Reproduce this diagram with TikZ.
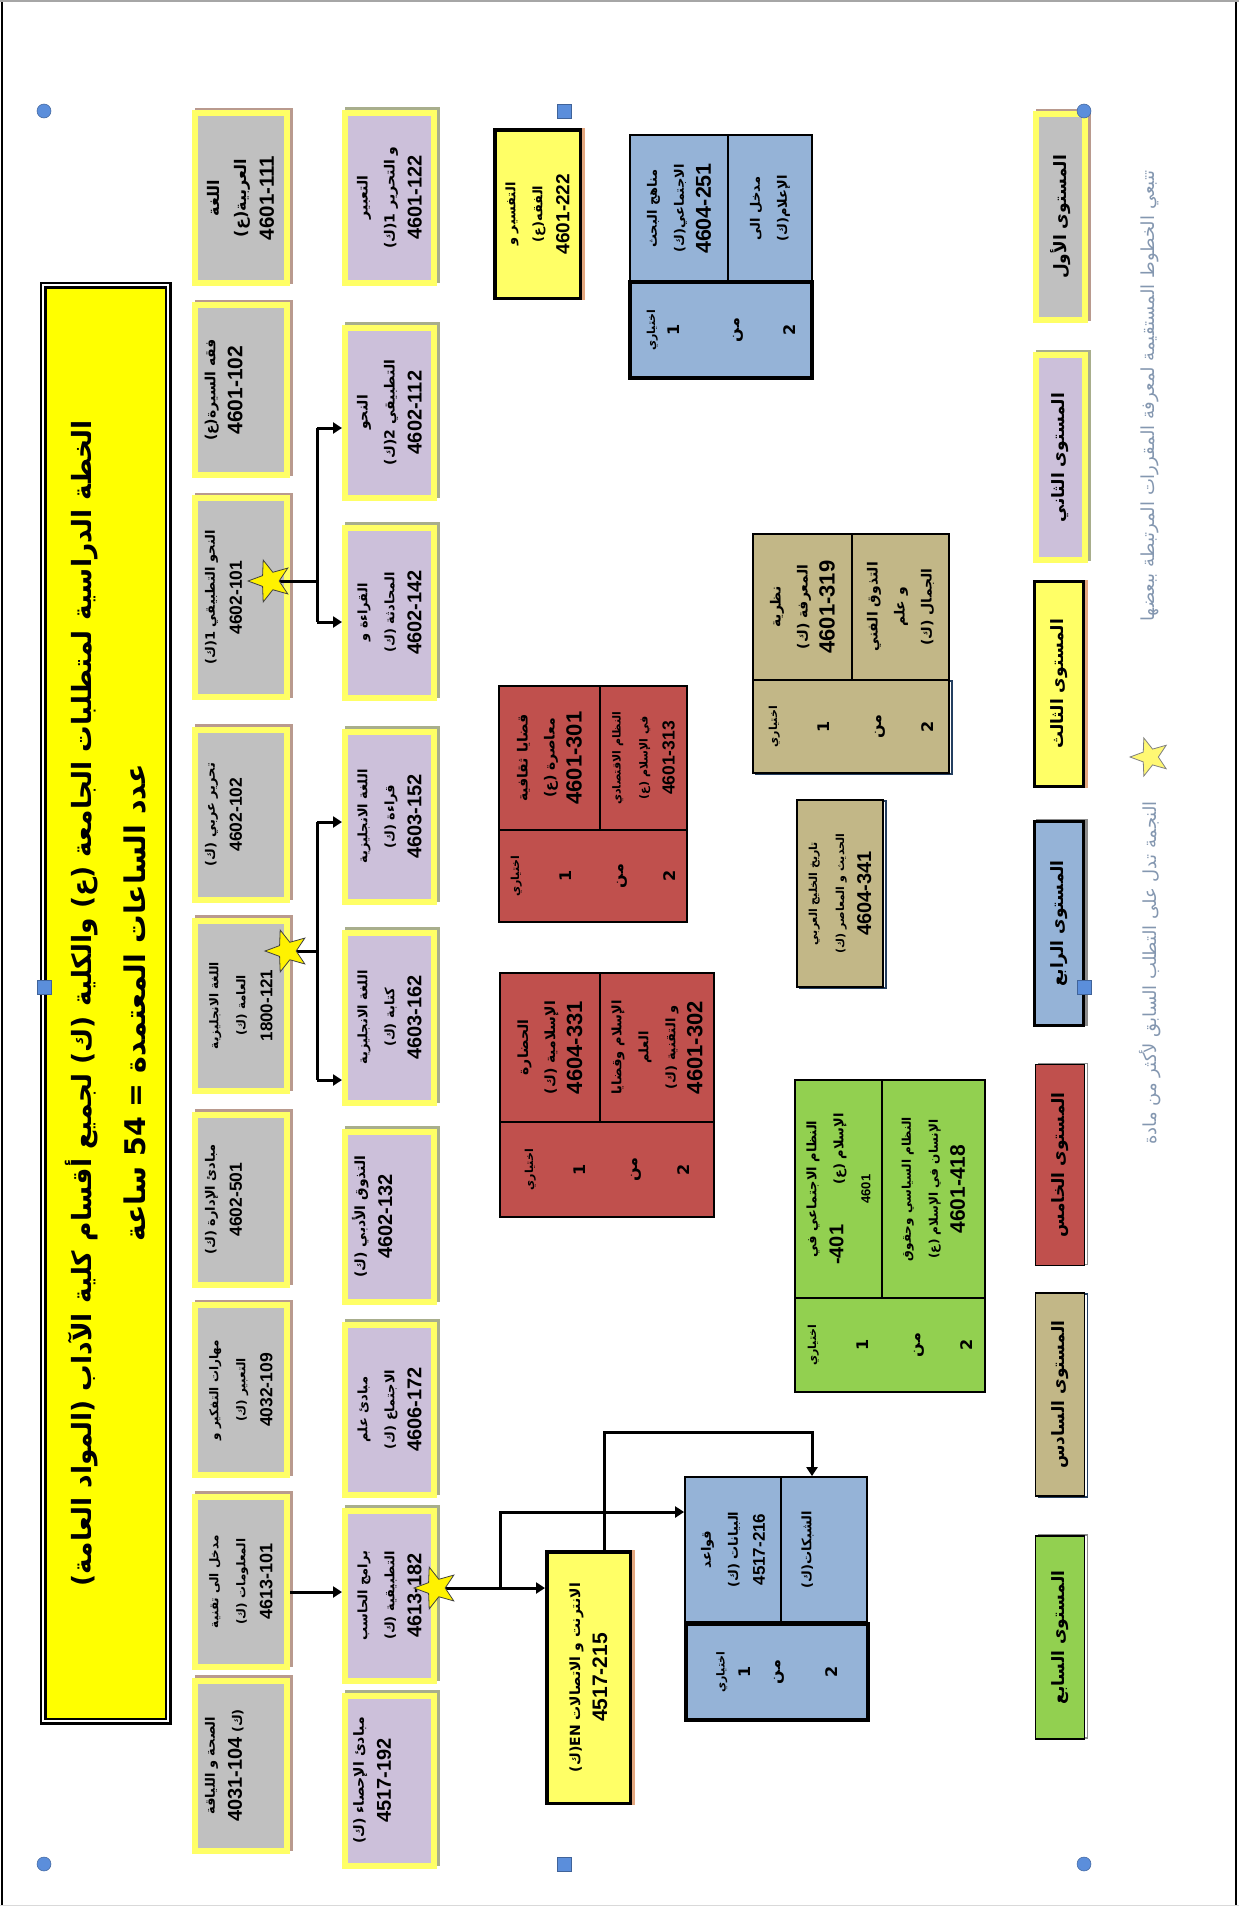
\documentclass[tikz,border=0pt]{standalone}
\usepackage{fontspec}
\usepackage{tikz}
\usetikzlibrary{shapes.geometric,arrows.meta,calc}
\TeXXeTstate=1
\newfontfamily\arfont[Script=Arabic]{DejaVu Sans}
\newfontfamily\numfont{Liberation Sans}
\newcommand{\rl}[1]{\beginR #1\endR}
\newcommand{\nm}[2][20]{{\numfont\bfseries\fontsize{#1}{27}\selectfont #2}}
\newcommand{\choicetext}{\rl{{\fontsize{11}{27}\selectfont اختياري}}\\1\\\rl{من}\\2}
\definecolor{grayfill}{HTML}{C0C0C0}
\definecolor{lavfill}{HTML}{CCC0DA}
\definecolor{rimyellow}{HTML}{FFFF66}
\definecolor{lvyellow}{HTML}{FFFF66}
\definecolor{titleyellow}{HTML}{FFFF00}
\definecolor{bluefill}{HTML}{95B3D7}
\definecolor{redfill}{HTML}{C0504D}
\definecolor{tanfill}{HTML}{C2B787}
\definecolor{greenfill}{HTML}{92D050}
\definecolor{notegray}{HTML}{8497B0}
\definecolor{handleblue}{HTML}{5B8EDB}
\definecolor{shadebrown}{HTML}{B99A8E}
\definecolor{shadeolive}{HTML}{A8AE8C}
\definecolor{shadeorange}{HTML}{E3A77F}
\definecolor{shadenavy}{HTML}{243F60}
\definecolor{shadegray}{HTML}{8C8C8C}
\begin{document}
\begin{tikzpicture}[x=1pt,y=-1pt,
    rimbox/.style={rotate=90, draw=rimyellow, line width=6pt, inner sep=0pt, align=center},
    levelone/.style={rimbox, fill=grayfill, minimum width=170pt, minimum height=92pt,
      preaction={draw=shadebrown, transform canvas={shift={(2.5pt,2.5pt)}}}},
    leveltwo/.style={rimbox, fill=lavfill, minimum width=170pt, minimum height=89pt,
      preaction={draw=shadeolive, transform canvas={shift={(2.5pt,2.5pt)}}}},
    cell/.style={rotate=90, draw=black, line width=1.8pt, inner sep=0pt, align=center},
    heavy/.style={line width=3.5pt},
    choice/.style={cell, font=\arfont\bfseries\fontsize{16}{52}\selectfont},
    fsz/.style={font=\arfont\bfseries\fontsize{#1}{27}\selectfont},
    legendfont/.style={font=\arfont\bfseries\fontsize{17}{20}\selectfont},
    orangeshade/.style={preaction={draw=shadeorange, transform canvas={shift={(3pt,0pt)}}}},
    navyshade/.style={preaction={draw=shadenavy, transform canvas={shift={(3pt,-1pt)}}}},
    grayshade/.style={preaction={draw=shadegray, transform canvas={shift={(3pt,1pt)}}}},
    note/.style={rotate=90, text=notegray, font=\arfont\fontsize{18}{20}\selectfont},
    link/.style={line width=3pt},
    linkarrow/.style={link, -{Triangle[length=9pt,width=11pt]}},
    prereq/.style={star, star points=5, star point ratio=2.4, minimum size=44pt, inner sep=0pt,
      fill=yellow, draw=black!75, line width=0.8pt, rotate=90},
    handle/.style={fill=handleblue, draw=handleblue!70!black, line width=0.5pt}]
  \useasboundingbox (0,0) rectangle (1239,1906);
  \draw[line width=2pt] (2,0) -- (2,1906);
  \draw[line width=2.5pt] (1236,0) -- (1236,1906);
  \draw[gray!70, line width=1.5pt] (0,1) -- (1239,1);
  \draw[gray!30, line width=1pt] (0,1905) -- (1239,1905);

  \node[rotate=90, draw, line width=2.5pt, double=white, double distance=2pt, fill=titleyellow,
    minimum width=1436pt, minimum height=125pt, align=center,
    font=\arfont\bfseries\fontsize{26.5}{54}\selectfont] (title) at (105.5,1003)
    {\rl{الخطة الدراسية لمتطلبات الجامعة (ع) والكلية (ك) لجميع أقسام كلية الآداب (المواد العامة)}\\
     \rl{\fontsize{28.5}{54}\selectfont عدد الساعات المعتمدة = \beginL 54\endL{} ساعة}};

  \node[levelone, fsz=16] (n11) at (241,198) {\rl{اللغة}\\\rl{العربية(ع)}\\\nm[20.5]{4601-111}};
  \node[levelone, fsz=14] (n12) at (241,390) {\rl{فقه السيرة(ع)}\\\nm[21]{4601-102}\\\strut};
  \node[levelone, minimum width=199pt, fsz=13] (n13) at (241,597.5) {\rl{النحو التطبيقي 1(ك)}\\\nm[17.5]{4602-101}\\\strut};
  \node[levelone, fsz=13] (n14) at (241,814.5) {\rl{تحرير عربي (ك)}\\\nm[17.5]{4602-102}\\\strut};
  \node[levelone, fsz=12] (n15) at (241,1005.5) {\rl{اللغة الانجليزية}\\\rl{العامة (ك)}\\\nm[17]{1800-121}};
  \node[levelone, fsz=13] (n16) at (241,1199.5) {\rl{مبادئ الإدارة (ك)}\\\nm[17.5]{4602-501}\\\strut};
  \node[levelone, fsz=12] (n17) at (241,1390) {\rl{مهارات التفكير و}\\\rl{التعبير (ك)}\\\nm[17.5]{4032-109}};
  \node[levelone, fsz=12] (n18) at (241,1581.5) {\rl{مدخل الى تقنية}\\\rl{المعلومات (ك)}\\\nm[18]{4613-101}};
  \node[levelone, fsz=13] (n19) at (241,1765.5) {\rl{الصحة و اللياقة}\\\rl{(ك) \beginL\nm[20]{4031-104}\endL}\\\strut};

  \node[leveltwo, fsz=14] (n21) at (389.5,197.5) {\rl{التعبير}\\\rl{و التحرير 1(ك)}\\\nm{4601-122}};
  \node[leveltwo, fsz=14] (n22) at (389.5,412.5) {\rl{النحو}\\\rl{التطبيقي 2(ك)}\\\nm{4602-112}};
  \node[leveltwo, fsz=13] (n23) at (389.5,612.5) {\rl{القراءة و}\\\rl{المحادثة (ك)}\\\nm{4602-142}};
  \node[leveltwo, fsz=13] (n24) at (389.5,816.5) {\rl{اللغة الانجليزية}\\\rl{قراءة (ك)}\\\nm{4603-152}};
  \node[leveltwo, fsz=13] (n25) at (389.5,1017.5) {\rl{اللغة الانجليزية}\\\rl{كتابة (ك)}\\\nm{4603-162}};
  \node[leveltwo, fsz=14] (n26) at (389.5,1216.5) {\rl{التذوق الأدبي (ك)}\\\nm{4602-132}\\\strut};
  \node[leveltwo, fsz=13] (n27) at (389.5,1409.5) {\rl{مبادئ علم}\\\rl{الاجتماع (ك)}\\\nm{4606-172}};
  \node[leveltwo, fsz=13] (n28) at (389.5,1595.5) {\rl{برامج الحاسب}\\\rl{التطبيقية (ك)}\\\nm{4613-182}};
  \node[leveltwo, fsz=14] (n29) at (389.5,1780.5) {\rl{مبادئ الإحصاء (ك)}\\\nm{4517-192}\\\strut};

  \node[cell, heavy, fill=lvyellow, orangeshade, minimum width=168.5pt, minimum height=85.5pt, fsz=13] (y1) at (537.5,214)
    {\rl{التفسير و}\\\rl{الفقه(ع)}\\\nm[19]{4601-222}};
  \node[cell, heavy, fill=lvyellow, orangeshade, minimum width=251.5pt, minimum height=83.5pt, fsz=14] (y2) at (588.5,1677.5)
    {\rl{الانترنت و الاتصالات \beginL EN\endL(ك)}\\\nm[21]{4517-215}};

  \node[cell, fill=bluefill, minimum width=147pt, minimum height=98pt, fsz=13] (b1a) at (679,208.5)
    {\rl{مناهج البحث}\\\rl{الاجتماعي(ك)}\\\nm[21.5]{4604-251}};
  \node[cell, fill=bluefill, minimum width=147pt, minimum height=84pt, fsz=13] (b1b) at (770,208.5)
    {\rl{مدخل الى}\\\rl{الإعلام(ك)}};
  \node[choice, heavy, fill=bluefill, minimum width=96pt, minimum height=182pt] (b1c) at (721,330)
    {\rl{{\fontsize{11}{27}\selectfont اختياري}}\\[-28pt]1\\[8pt]\rl{من}\\[4pt]2};
  \node[cell, fill=bluefill, minimum width=145pt, minimum height=96pt, fsz=13] (b2a) at (733,1549.5)
    {\rl{قواعد}\\\rl{البيانات (ك)}\\\nm[17]{4517-216}};
  \node[cell, fill=bluefill, minimum width=145pt, minimum height=86pt, fsz=13] (b2b) at (824,1549.5)
    {\rl{الشبكات(ك)}\\\strut};
  \node[choice, heavy, fill=bluefill, minimum width=96pt, minimum height=182pt] (b2c) at (777,1672)
    {\rl{{\fontsize{11}{27}\selectfont اختياري}}\\[-26pt]1\\[-22pt]\rl{من}\\[5pt]2};

  \node[cell, fill=redfill, minimum width=144pt, minimum height=101pt, fsz=14] (r1a) at (549.5,758)
    {\rl{قضايا ثقافية}\\\rl{معاصرة (ع)}\\\nm[22]{4601-301}};
  \node[cell, fill=redfill, minimum width=144pt, minimum height=87pt, fsz=11] (r1b) at (643.5,758)
    {\rl{النظام الاقتصادي}\\\rl{في الإسلام (ع)}\\\nm[17.5]{4601-313}};
  \node[choice, fill=redfill, minimum width=92pt, minimum height=188pt] (r1c) at (593,876) {\choicetext};
  \node[cell, fill=redfill, minimum width=149pt, minimum height=100pt, fsz=14] (r2a) at (550,1047.5)
    {\rl{الحضارة}\\\rl{الإسلامية (ك)}\\\nm[22]{4604-331}};
  \node[cell, fill=redfill, minimum width=149pt, minimum height=114pt, fsz=13] (r2b) at (657,1047.5)
    {\rl{الإسلام وقضايا}\\\rl{العلم}\\\rl{و التقنية (ك)}\\\nm[22]{4601-302}};
  \node[choice, fill=redfill, minimum width=95pt, minimum height=214pt] (r2c) at (607,1169.5) {\choicetext};

  \node[cell, fill=tanfill, minimum width=146pt, minimum height=99pt, fsz=14] (t1a) at (802.5,607)
    {\rl{نظرية}\\\rl{المعرفة (ك)}\\\nm[22]{4601-319}};
  \node[cell, fill=tanfill, minimum width=146pt, minimum height=97pt, fsz=14] (t1b) at (900.5,607)
    {\rl{التذوق الفني}\\\rl{و علم}\\\rl{الجمال (ك)}};
  \node[choice, fill=tanfill, navyshade, minimum width=93pt, minimum height=196pt] (t1c) at (851,726.5) {\choicetext};
  \node[cell, fill=tanfill, navyshade, minimum width=187pt, minimum height=86pt, fsz=11] (t2) at (840,893.5)
    {\rl{تاريخ الخليج العربي}\\\rl{الحديث و المعاصر (ك)}\\\nm[20]{4604-341}};

  \node[cell, fill=greenfill, minimum width=218pt, minimum height=87pt, fsz=13] (g1a) at (838.5,1189)
    {\rl{النظام الاجتماعي في}\\\rl{الإسلام (ع)\hspace{40pt}\beginL\nm[20]{-401}\endL}\\\nm[13]{4601}};
  \node[cell, fill=greenfill, minimum width=218pt, minimum height=103pt, fsz=12] (g1b) at (933.5,1189)
    {\rl{النظام السياسي وحقوق}\\\rl{الإنسان في الإسلام (ع)}\\\nm[21]{4601-418}};
  \node[choice, fill=greenfill, minimum width=94pt, minimum height=190pt] (g1c) at (890,1345) {\choicetext};

  \node[levelone, minimum width=206pt, minimum height=49pt, legendfont] (lg1) at (1060.5,217) {\rl{المستوى الأول}};
  \node[leveltwo, minimum width=205pt, minimum height=49pt, legendfont] (lg2) at (1060.5,457.5) {\rl{المستوى الثاني}};
  \node[cell, heavy, fill=lvyellow, orangeshade, minimum width=205pt, minimum height=49pt, legendfont] (lg3) at (1059,684) {\rl{المستوى الثالث}};
  \node[cell, heavy, fill=bluefill, grayshade, minimum width=204pt, minimum height=49pt, legendfont] (lg4) at (1059,923.5) {\rl{المستوى الرابع}};
  \node[cell, fill=redfill, grayshade, minimum width=201pt, minimum height=49pt, legendfont] (lg5) at (1060,1165) {\rl{المستوى الخامس}};
  \node[cell, fill=tanfill, navyshade, minimum width=203pt, minimum height=49pt, legendfont] (lg6) at (1060,1394.5) {\rl{المستوى السادس}};
  \node[cell, fill=greenfill, grayshade, minimum width=203pt, minimum height=49pt, legendfont] (lg7) at (1060,1637.5) {\rl{المستوى السابع}};

  \node[note] (nt1) at (1150,396) {\rl{تتبعي الخطوط المستقيمة لمعرفة المقررات المرتبطة ببعضها}};
  \node[note] (nt2) at (1150,973) {\rl{النجمة تدل على التطلب السابق لأكثر من مادة}};
  \node[prereq, fill=yellow!55, draw=gray, minimum size=40pt] (st0) at (1150,757) {};

  \coordinate (s1) at (270,581);
  \coordinate (s2) at (287,951);
  \coordinate (s3) at (436,1588);
  \coordinate (j1) at (317,428);
  \coordinate (j2) at (317,622);
  \coordinate (j3) at (317,822);
  \coordinate (j4) at (317,1080);
  \coordinate (j5) at (500,1588);
  \coordinate (j6) at (500,1512);
  \coordinate (j7) at (604,1432);
  \coordinate (j8) at (812,1432);
  \draw[link] (s1) -- (s1 -| j1);
  \draw[link] (j1) -- (j2);
  \draw[linkarrow] (j1) -- (j1 -| n22.north);
  \draw[linkarrow] (j2) -- (j2 -| n23.north);
  \draw[link] (s2) -- (s2 -| j3);
  \draw[link] (j3) -- (j4);
  \draw[linkarrow] (j3) -- (j3 -| n24.north);
  \draw[linkarrow] (j4) -- (j4 -| n25.north);
  \draw[linkarrow] ($(n18.south)+(0,10.5)$) -- ($(n28.north)+(0,-3.5)$);
  \draw[linkarrow] (s3) -- (s3 -| y2.north);
  \draw[linkarrow] (j5) -- (j6) -- (j6 -| b2a.north);
  \draw[linkarrow] (j7 |- y2.east) -- (j7) -- (j8) -- (j8 |- b2b.east);
  \node[prereq] (st1) at (s1) {};
  \node[prereq] (st2) at (s2) {};
  \node[prereq] (st3) at (s3) {};

  \filldraw[handle] (44,111) circle (7pt);
  \filldraw[handle] (1084,111) circle (7pt);
  \filldraw[handle] (44,1864) circle (7pt);
  \filldraw[handle] (1084,1864) circle (7pt);
  \filldraw[handle] (557,104) rectangle (571,118);
  \filldraw[handle] (37,980) rectangle (51,994);
  \filldraw[handle] (1077,980) rectangle (1091,994);
  \filldraw[handle] (557,1857) rectangle (571,1871);
\end{tikzpicture}
\end{document}
